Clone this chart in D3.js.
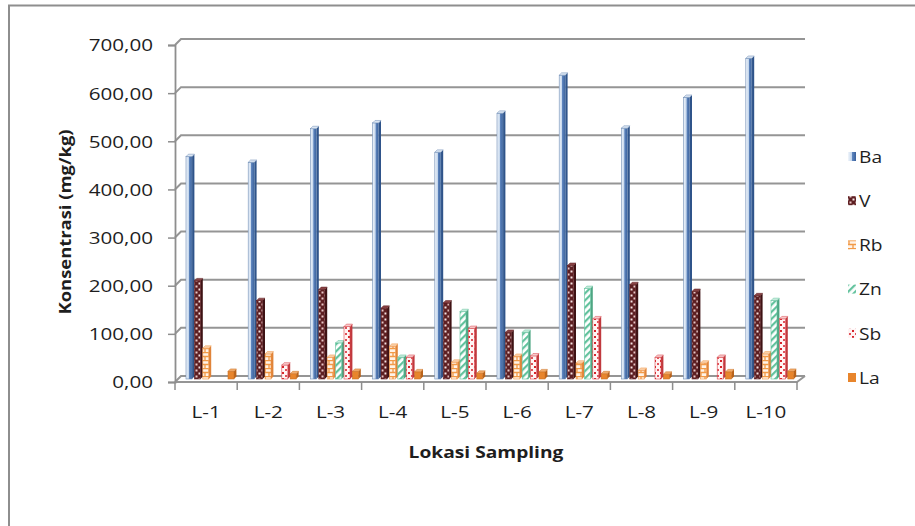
<!DOCTYPE html>
<html>
<head>
<meta charset="utf-8">
<script src="https://cdn.jsdelivr.net/npm/d3@7/dist/d3.min.js"></script>
<style>
  html, body { margin: 0; padding: 0; background: #fff; }
  svg { display: block; }
  text { font-family: "Open Sans", "Noto Sans", sans-serif; fill: #1e1e1e; }
</style>
</head>
<body>
<svg id="chart" width="915" height="526"></svg>
<script>
// Sampling locations and element concentrations (mg/kg)
const categories = ["L-1", "L-2", "L-3", "L-4", "L-5", "L-6", "L-7", "L-8", "L-9", "L-10"];
const seriesNames = ["Ba", "V", "Rb", "Zn", "Sb", "La"];
const ba = [462, 450, 520, 532, 471, 552, 631, 521, 585, 666];
const v  = [204, 163, 186, 147, 158, 97, 236, 196, 182, 173];
const rb = [64, 52, 45, 68, 35, 47, 33, 18, 33, 52];
const zn = [0, 0, 75, 45, 140, 97, 188, 0, 0, 163];
const sb = [0, 29, 109, 45, 105, 48, 125, 45, 45, 125];
const la = [16, 11, 16, 15, 12, 15, 11, 10, 15, 16];
const yTicks = [0, 100, 200, 300, 400, 500, 600, 700];

const seriesValues = { Ba: ba, V: v, Rb: rb, Zn: zn, Sb: sb, La: la };

const svg = d3.select("#chart");
const defs = svg.append("defs");

// Chart frame
svg.append("path")
  .attr("d", "M9,560 L9,5.5 L930,5.5")
  .attr("fill", "none").attr("stroke", "#8e8e8e").attr("stroke-width", 2);

// Fill patterns for each element
function pattern(id, w, h, draw) {
  const p = defs.append("pattern").attr("id", id)
    .attr("patternUnits", "userSpaceOnUse").attr("width", w).attr("height", h);
  draw(p);
}
const baGrad = defs.append("linearGradient").attr("id", "baGrad")
  .attr("x1", "0").attr("x2", "1").attr("y1", "0").attr("y2", "0");
[["0%", "#f2f6fb"], ["45%", "#c4d6ec"], ["55%", "#5d84bd"], ["100%", "#3a619c"]]
  .forEach(([o, c]) => baGrad.append("stop").attr("offset", o).attr("stop-color", c));

pattern("pV", 6, 6, p => {
  p.append("rect").attr("width", 6).attr("height", 6).attr("fill", "#5e1f22");
  p.append("rect").attr("x", 0.5).attr("y", 0.5).attr("width", 2).attr("height", 2).attr("fill", "#f6e4e4");
  p.append("rect").attr("x", 3.5).attr("y", 3.5).attr("width", 2).attr("height", 2).attr("fill", "#e9c8c8");
});
pattern("pRb", 8, 8, p => {
  p.append("rect").attr("width", 8).attr("height", 8).attr("fill", "#fff3e8");
  p.append("path").attr("d", "M0,0.5H8M0,4.5H8M1,0V4M5,4V8")
    .attr("stroke", "#f29a47").attr("stroke-width", 1.3);
});
pattern("pZn", 5, 5, p => {
  p.attr("patternTransform", "rotate(45)");
  p.append("rect").attr("width", 5).attr("height", 5).attr("fill", "#ffffff");
  p.append("rect").attr("width", 2.2).attr("height", 5).attr("fill", "#62c29d");
});
pattern("pSb", 6, 6, p => {
  p.append("rect").attr("width", 6).attr("height", 6).attr("fill", "#fff4f4");
  p.append("rect").attr("x", 0).attr("y", 0).attr("width", 2).attr("height", 2).attr("fill", "#d6242a");
  p.append("rect").attr("x", 3).attr("y", 3).attr("width", 2).attr("height", 2).attr("fill", "#e0525a");
});

const styles = {
  Ba: { fill: "url(#baGrad)", side: "#2f548a", top: "#dbe6f3", stroke: "#6f8db5" },
  V:  { fill: "url(#pV)", side: "#3e1214", top: "#8a4446", stroke: "#5e1f22" },
  Rb: { fill: "url(#pRb)", side: "#e0843a", top: "#fbd3ae", stroke: "#ef9444" },
  Zn: { fill: "url(#pZn)", side: "#4ea683", top: "#c5eadb", stroke: "#62c29d" },
  Sb: { fill: "url(#pSb)", side: "#c0393e", top: "#f7c9cb", stroke: "#d9464c" },
  La: { fill: "#e8852c", side: "#b9631b", top: "#f3ad6c", stroke: "#c96f22" }
};

// Scales
const x = d3.scaleBand().domain(categories).range([175, 797]);
const xs = d3.scaleBand().domain(seriesNames).range([8, 58.4]);
const y = d3.scaleLinear().domain([0, 700]).range([382, 45]);
const depth = 6;      // back wall offset
const mid = 3;        // bars sit half way into the floor

// Back wall gridlines with left wall slant
const grid = svg.append("g");
yTicks.forEach(t => {
  const yf = y(t);
  grid.append("path")
    .attr("d", `M175,${yf} L${175 + depth},${yf - depth} L805,${yf - depth}`)
    .attr("fill", "none").attr("stroke", "#959595").attr("stroke-width", 2);
});
// Floor
svg.append("path")
  .attr("d", `M175,${y(0)} L797,${y(0)} L805,${y(0) - depth}`)
  .attr("fill", "none").attr("stroke", "#959595").attr("stroke-width", 2);

// Y axis
const yAxis = svg.append("g").attr("transform", "translate(175,0)")
  .call(d3.axisLeft(y).tickValues(yTicks).tickSize(7).tickPadding(0)
    .tickFormat(d => d3.format(".2f")(d).replace(".", ",")));
yAxis.select(".domain").attr("stroke", "#8e8e8e").attr("stroke-width", 1.8);
yAxis.selectAll(".tick line").attr("stroke", "#8e8e8e").attr("stroke-width", 1.5);
yAxis.selectAll(".tick text")
  .attr("x", 0).attr("dy", "0.36em")
  .attr("transform", "translate(-22,0) scale(1.25,1)")
  .attr("text-anchor", "end")
  .style("font-size", "16.5px").style("font-family", "'Open Sans', sans-serif").attr("fill", "#222");

// X axis ticks and labels
const xAxis = svg.append("g").attr("transform", `translate(0,${y(0)})`)
  .call(d3.axisBottom(x).tickSize(0).tickPadding(0));
xAxis.select(".domain").remove();
xAxis.selectAll(".tick text").remove();
const edges = categories.map(c => x(c)).concat([x.range()[1]]);
xAxis.selectAll(".edge").data(edges).join("line")
  .attr("x1", d => d).attr("x2", d => d).attr("y1", 0).attr("y2", 8)
  .attr("stroke", "#8e8e8e").attr("stroke-width", 1.5);
svg.append("g").selectAll("text").data(categories).join("text")
  .attr("transform", d => `translate(${x(d) + x.bandwidth() / 2},418) scale(1.25,1)`)
  .attr("text-anchor", "middle")
  .style("font-size", "16.5px")
  .text(d => d);

// 3D columns
const bars = svg.append("g");
const dx = 2.4, dy = 2.4;
categories.forEach((c, i) => {
  seriesNames.forEach(s => {
    const val = seriesValues[s][i];
    if (!val) return;
    const st = styles[s];
    const left = x(c) + xs(s) + mid;
    const w = xs.bandwidth() - dx;
    const right = left + w;
    const top = y(val) - mid;
    const bottom = y(0) - mid;
    const g = bars.append("g");
    g.append("path")
      .attr("d", `M${right},${top} L${right + dx},${top - dy} L${right + dx},${bottom - dy} L${right},${bottom} Z`)
      .attr("fill", st.side);
    g.append("rect")
      .attr("x", left).attr("y", top).attr("width", w).attr("height", bottom - top)
      .attr("fill", st.fill).attr("stroke", st.stroke).attr("stroke-width", 0.6);
    g.append("path")
      .attr("d", `M${left},${top} L${left + dx},${top - dy} L${right + dx},${top - dy} L${right},${top} Z`)
      .attr("fill", st.top).attr("stroke", st.stroke).attr("stroke-width", 0.5);
  });
});

// Axis titles
svg.append("text")
  .attr("transform", "translate(71,222) rotate(-90) scale(1.15,1)")
  .attr("text-anchor", "middle")
  .style("font-size", "16px").style("font-weight", "700")
  .text("Konsentrasi (mg/kg)");
svg.append("text")
  .attr("transform", "translate(486,458) scale(1.2,1)")
  .attr("text-anchor", "middle")
  .style("font-size", "16px").style("font-weight", "700")
  .text("Lokasi Sampling");

// Legend
const legend = svg.append("g");
seriesNames.forEach((s, i) => {
  const ly = 157 + i * 44.2;
  const st = styles[s];
  legend.append("rect")
    .attr("x", 848).attr("y", ly - 5).attr("width", 8).attr("height", 9)
    .attr("fill", st.fill);
  legend.append("text")
    .attr("transform", `translate(859,${ly}) scale(1.2,1)`)
    .attr("dy", "0.36em")
    .style("font-size", "16px")
    .text(s);
});
</script>
</body>
</html>
